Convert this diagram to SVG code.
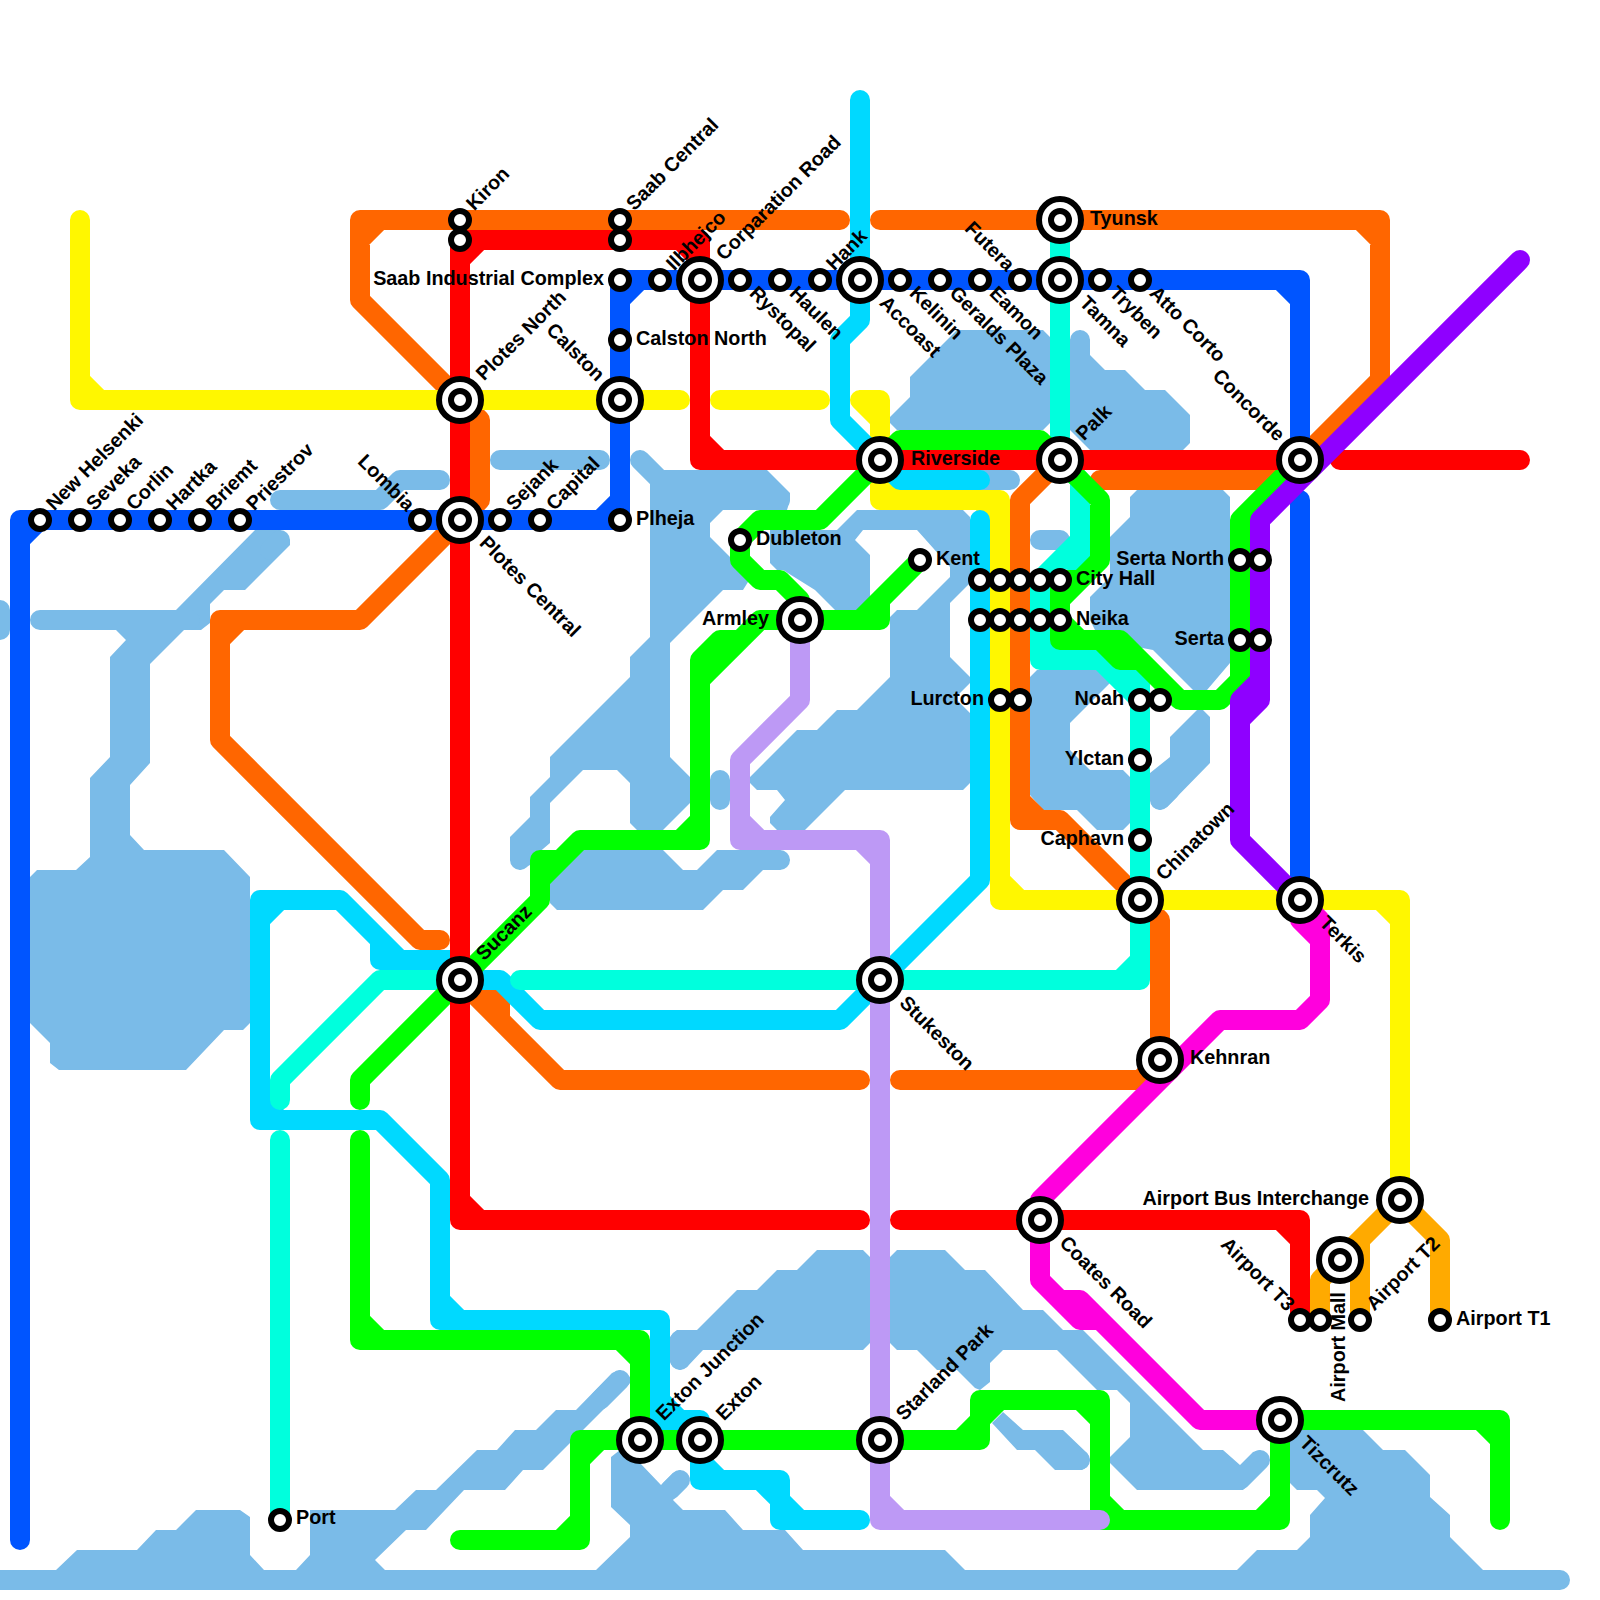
<svg xmlns="http://www.w3.org/2000/svg" width="1600" height="1600" viewBox="0 0 1600 1600">
<style>
.w{fill:#7abbe8}
.wl{fill:none;stroke:#7abbe8;stroke-width:20;stroke-linecap:round;stroke-linejoin:round}
.l{fill:none;stroke-width:20;stroke-linecap:round;stroke-linejoin:round}
.or{stroke:#ff6600}.re{stroke:#ff0000}.ye{stroke:#fff700}.cy{stroke:#00d9ff}.bl{stroke:#0055ff}.te{stroke:#00ffdd}.gr{stroke:#00ff00}.pu{stroke:#8f00ff}.ma{stroke:#ff00dd}.li{stroke:#bd99f5}.am{stroke:#ffaa00}
.ring{fill:#fff;stroke:#000;stroke-width:6}
text{font-family:"Liberation Sans",Arial,sans-serif;font-weight:bold;font-size:19.8px;fill:#000}
.e{text-anchor:end}
</style>
<defs>
<g id="hub"><circle class="ring" r="21"/><circle class="ring" r="9"/></g>
<g id="stop"><circle class="ring" r="9"/></g>
</defs>
<rect width="1600" height="1600" fill="#fff"/>
<g id="water">
<polygon class="w" points="255,530 280,530 290,540 290,545 245,590 224,590 210,604 210,623 201,630 184,630 150,664 150,763 130,785 130,835 144,850 224,850 250,877 250,1023 243,1030 224,1030 186,1070 59,1070 50,1063 50,1043 30,1023 30,877 37,870 76,870 90,857 90,778 110,757 110,657 126,640 116,630 40,630 40,610 176,610"/>
<path class="wl" d="M40,620H190M0,610V630M280,540L270,550M280,500H380L400,480H440M500,460H600M720,780V800M1040,540H1060M960,480H1010M640,460L660,480M520,860V850M770,860H780M780,500H770M1080,340V350M680,1340V1360M620,1380L600,1400M680,1480L670,1490M1260,1460L1240,1480M1160,800L1170,790M1080,1460H1070M1540,1580H1560"/>
<polygon class="w" points="632,460 640,450 663,470 767,470 790,493 790,500 787,510 723,510 710,523 710,537 750,577 748,582 743,590 723,590 670,643 670,757 690,777 690,803 663,830 637,830 630,823 630,783 617,770 583,770 550,803 550,843 530,860 530,865 520,870 510,860 510,837 530,817 530,797 550,777 550,757 630,677 630,657 650,637 650,483 632,465"/>
<polygon class="w" points="583,850 663,850 683,870 697,870 717,850 780,850 790,860 780,870 763,870 743,890 723,890 703,910 557,910 550,903 550,883"/>
<polygon class="w" points="837,530 857,510 963,510 970,517 970,583 950,603 950,657 970,677 970,683 955,698 970,713 970,783 963,790 845,790 805,830 777,830 770,823 770,817 785,800 777,790 757,790 750,783 750,777 797,730 817,730 837,710 857,710 890,677 890,617 897,610 917,610 950,577 950,567 917,530 863,530 855,540 870,555 870,597 857,610 835,610 815,590 783,570 777,570 770,563 770,530"/>
<polygon class="w" points="910,377 957,330 1043,330 1050,337 1050,423 1043,430 897,430 890,423 890,417 910,397"/>
<polygon class="w" points="1070,340 1080,330 1090,340 1090,355 1105,370 1125,370 1145,390 1165,390 1190,415 1190,443 1183,450 1090,450 1070,430"/>
<polygon class="w" points="1130,497 1137,490 1223,490 1230,497 1230,663 1207,690 1193,690 1153,650 1100,640 1090,620 1090,597 1110,577 1110,537 1130,517"/>
<polygon class="w" points="1030,677 1037,670 1097,670 1110,683 1070,723 1070,750 1090,770 1123,770 1130,777 1130,823 1123,830 1097,830 1077,810 1043,810 1030,795"/>
<polygon class="w" points="1150,773 1170,757 1170,737 1197,710 1203,710 1210,717 1210,763 1167,807 1160,810 1153,807 1150,800"/>
<polygon class="w" points="670,1337 677,1330 697,1330 737,1290 757,1290 777,1270 797,1270 817,1250 863,1250 870,1257 870,1343 863,1350 703,1350 687,1367 680,1370 673,1367 670,1362"/>
<polygon class="w" points="890,1257 897,1250 945,1250 965,1270 985,1270 1023,1310 1043,1310 1063,1330 1083,1330 1203,1450 1223,1450 1240,1465 1253,1452 1260,1450 1270,1460 1243,1490 1137,1490 1110,1463 1110,1457 1130,1437 1130,1403 1117,1390 1097,1390 1057,1350 1003,1350 990,1363 990,1382 980,1390 975,1388 957,1370 937,1370 917,1350 897,1350 890,1343"/>
<polygon class="w" points="992,1423 1003,1412 1023,1430 1063,1430 1087,1453 1090,1460 1087,1467 1082,1470 1055,1470 1035,1450 1017,1450"/>
<polygon class="w" points="-10,1570 56,1570 77,1550 137,1550 156,1530 176,1530 196,1510 240,1510 250,1517 250,1555 264,1570 296,1570 310,1555 310,1510 395,1510 416,1490 436,1490 477,1450 497,1450 515,1430 536,1430 556,1410 576,1410 612,1373 620,1370 630,1377 630,1383 543,1470 523,1470 505,1490 464,1490 426,1530 406,1530 375,1560 385,1570 596,1570 630,1537 630,1525 611,1507 611,1457 620,1450 640,1463 661,1485 673,1473 680,1470 690,1478 673,1500 683,1510 725,1510 743,1530 785,1530 803,1550 945,1550 965,1570 1237,1570 1257,1550 1297,1550 1310,1537 1310,1515 1325,1498 1317,1490 1297,1490 1290,1483 1290,1430 1363,1430 1383,1450 1405,1450 1430,1475 1430,1497 1450,1515 1450,1537 1483,1570 1540,1570 1540,1590 -10,1590"/>
</g>
<g id="connectors">
<path id="line-orange" class="l or" d="M840,220H360V300L460,400L480,420V500L460,520L360,620H220V740L420,940H440M360,240L380,220M220,640L240,620M880,220H1380V380L1280,480H1100M1360,220L1380,240M1060,460L1020,500V820H1060L1140,900L1160,920V1060L1140,1080H900M1020,800L1040,820M860,1080H560L460,980M500,1020V990H460"/>
<path id="line-yellow" class="l ye" d="M80,220V400H680M80,380L100,400M720,400H820M860,400H880V500H1000V900H1400V1200M860,400L880,420M880,480L900,500M980,500L1000,520M1000,880L1020,900M1380,900L1400,920"/>
<path id="line-cyan" class="l cy" d="M860,100V320L840,340V420L880,460L900,480H980M980,520V880L880,980L840,1020H540L500,980H460V960H380V940L340,900H260V1120H380L440,1180V1320H660V1420H700V1480H780V1520H860M340,900L400,960M260,920L280,900M260,1100L280,1120M440,1300L460,1320M660,1400L680,1420M700,1460L720,1480M760,1480L780,1500M780,1500L800,1520"/>
<path id="line-teal" class="l te" d="M1060,220V460L1080,480V560H1068M1080,540L1040,580V660H1100L1120,680H1140V980H520M1120,680L1140,700M1120,980L1140,960M1040,640L1060,660M460,980H380L280,1080V1100M280,1140V1520"/>
<path id="line-green" class="l gr" d="M880,460L820,520H760L740,540V560L760,580H780L800,600V620M800,620H760L700,680V840H580L540,880V900L460,980L360,1080V1100M740,640H720L700,660V680M560,860H540V880M680,840L700,820M800,620H880V600M860,620L920,560M360,1140V1340H640V1440M360,1320L380,1340M620,1340L640,1360M460,1540H580V1440H980V1400H1100V1520H1280V1420H1500V1520M560,1540L580,1520M580,1460L600,1440M960,1440L980,1420M980,1420L1000,1400M1080,1400L1100,1420M1100,1500L1120,1520M1260,1520L1280,1500M1480,1420L1500,1440M880,460L900,440H1040L1060,460L1100,500V560L1060,600V640H1120L1180,700H1220L1240,680V520L1300,460M1060,600V580H1080M1100,640L1120,660H1140M1060,620L1080,640"/>
<path id="line-lilac" class="l li" d="M800,620V700L740,760V840H880V1520H1100M740,820L760,840M860,840L880,860M880,1500L900,1520"/>
<path id="line-magenta" class="l ma" d="M1300,900L1320,920V1000L1300,1020H1220L1040,1200V1280L1060,1300H1080L1200,1420H1280M1040,1280L1080,1320H1100M1300,900V920L1320,940"/>
<path id="line-blue" class="l bl" d="M20,1540V520H620V280H1300V460M1300,500V900M20,540L40,520M600,520L620,500M620,300L640,280M1280,280L1300,300"/>
<path id="line-red" class="l re" d="M860,1220H460V240H700V460H1300M460,1200L480,1220M460,260L480,240M680,240L700,260M700,440L720,460M1340,460H1520M900,1220H1300V1320M1280,1220L1300,1240"/>
<path id="line-purple" class="l pu" d="M1520,260L1260,520V700L1240,720V840L1300,900M1260,680L1240,700V720"/>
<path id="line-amber" class="l am" d="M1400,1200L1340,1260L1320,1280V1320M1400,1200L1360,1240V1320M1400,1200L1440,1240V1320"/>
</g>
<g id="stations">
<g id="new-helsenki"><use href="#stop" x="40" y="520"/><text x="56" y="524" transform="rotate(-45 40 520)">New Helsenki</text></g>
<g id="seveka"><use href="#stop" x="80" y="520"/><text x="96" y="524" transform="rotate(-45 80 520)">Seveka</text></g>
<g id="corlin"><use href="#stop" x="120" y="520"/><text x="136" y="524" transform="rotate(-45 120 520)">Corlin</text></g>
<g id="hartka"><use href="#stop" x="160" y="520"/><text x="176" y="524" transform="rotate(-45 160 520)">Hartka</text></g>
<g id="briemt"><use href="#stop" x="200" y="520"/><text x="216" y="524" transform="rotate(-45 200 520)">Briemt</text></g>
<g id="priestrov"><use href="#stop" x="240" y="520"/><text x="256" y="524" transform="rotate(-45 240 520)">Priestrov</text></g>
<g id="lombia"><use href="#stop" x="420" y="520"/><text class="e" x="405" y="524" transform="rotate(45 420 520)">Lombia</text></g>
<g id="plotes-central"><use href="#hub" x="460" y="520"/><text x="490" y="524" transform="rotate(45 460 520)">Plotes Central</text></g>
<g id="sejank"><use href="#stop" x="500" y="520"/><text x="516" y="524" transform="rotate(-45 500 520)">Sejank</text></g>
<g id="capital"><use href="#stop" x="540" y="520"/><text x="556" y="524" transform="rotate(-45 540 520)">Capital</text></g>
<g id="plheja"><use href="#stop" x="620" y="520"/><text x="636" y="525">Plheja</text></g>
<g id="kiron"><use href="#stop" x="460" y="220"/><text x="476" y="224" transform="rotate(-45 460 220)">Kiron</text></g>
<g id="n460-240"><use href="#stop" x="460" y="240"/></g>
<g id="saab-central"><use href="#stop" x="620" y="220"/><text x="636" y="224" transform="rotate(-45 620 220)">Saab Central</text></g>
<g id="n620-240"><use href="#stop" x="620" y="240"/></g>
<g id="saab-industrial-complex"><use href="#stop" x="620" y="280"/><text class="e" x="604" y="285">Saab Industrial Complex</text></g>
<g id="ilbhejco"><use href="#stop" x="660" y="280"/><text x="676" y="284" transform="rotate(-45 660 280)">Ilbhejco</text></g>
<g id="corparation-road"><use href="#hub" x="700" y="280"/><text x="730" y="284" transform="rotate(-45 700 280)">Corparation Road</text></g>
<g id="rystopal"><use href="#stop" x="740" y="280"/><text x="756" y="284" transform="rotate(45 740 280)">Rystopal</text></g>
<g id="haulen"><use href="#stop" x="780" y="280"/><text x="796" y="284" transform="rotate(45 780 280)">Haulen</text></g>
<g id="hank"><use href="#stop" x="820" y="280"/><text x="836" y="284" transform="rotate(-45 820 280)">Hank</text></g>
<g id="accoast"><use href="#hub" x="860" y="280"/><text x="890" y="284" transform="rotate(45 860 280)">Accoast</text></g>
<g id="kelinin"><use href="#stop" x="900" y="280"/><text x="916" y="284" transform="rotate(45 900 280)">Kelinin</text></g>
<g id="geralds-plaza"><use href="#stop" x="940" y="280"/><text x="956" y="284" transform="rotate(45 940 280)">Geralds Plaza</text></g>
<g id="eamon"><use href="#stop" x="980" y="280"/><text x="996" y="284" transform="rotate(45 980 280)">Eamon</text></g>
<g id="futera"><use href="#stop" x="1020" y="280"/><text class="e" x="1005" y="284" transform="rotate(45 1020 280)">Futera</text></g>
<g id="tamna"><use href="#hub" x="1060" y="280"/><text x="1090" y="284" transform="rotate(45 1060 280)">Tamna</text></g>
<g id="tryben"><use href="#stop" x="1100" y="280"/><text x="1116" y="284" transform="rotate(45 1100 280)">Tryben</text></g>
<g id="atto-corto"><use href="#stop" x="1140" y="280"/><text x="1156" y="284" transform="rotate(45 1140 280)">Atto Corto</text></g>
<g id="tyunsk"><use href="#hub" x="1060" y="220"/><text x="1090" y="225">Tyunsk</text></g>
<g id="calston-north"><use href="#stop" x="620" y="340"/><text x="636" y="345">Calston North</text></g>
<g id="plotes-north"><use href="#hub" x="460" y="400"/><text x="490" y="404" transform="rotate(-45 460 400)">Plotes North</text></g>
<g id="calston"><use href="#hub" x="620" y="400"/><text class="e" x="591" y="404" transform="rotate(45 620 400)">Calston</text></g>
<g id="riverside"><use href="#hub" x="880" y="460"/><text x="911" y="465">Riverside</text></g>
<g id="palk"><use href="#hub" x="1060" y="460"/><text x="1090" y="464" transform="rotate(-45 1060 460)">Palk</text></g>
<g id="concorde"><use href="#hub" x="1300" y="460"/><text class="e" x="1271" y="464" transform="rotate(45 1300 460)">Concorde</text></g>
<g id="dubleton"><use href="#stop" x="740" y="540"/><text x="756" y="545">Dubleton</text></g>
<g id="kent"><use href="#stop" x="920" y="560"/><text x="936" y="565">Kent</text></g>
<g id="armley"><use href="#hub" x="800" y="620"/><text class="e" x="769" y="625">Armley</text></g>
<g id="n980-580"><use href="#stop" x="980" y="580"/></g>
<g id="n1000-580"><use href="#stop" x="1000" y="580"/></g>
<g id="n1020-580"><use href="#stop" x="1020" y="580"/></g>
<g id="n1040-580"><use href="#stop" x="1040" y="580"/></g>
<g id="city-hall"><use href="#stop" x="1060" y="580"/><text x="1076" y="585">City Hall</text></g>
<g id="n980-620"><use href="#stop" x="980" y="620"/></g>
<g id="n1000-620"><use href="#stop" x="1000" y="620"/></g>
<g id="n1020-620"><use href="#stop" x="1020" y="620"/></g>
<g id="n1040-620"><use href="#stop" x="1040" y="620"/></g>
<g id="neika"><use href="#stop" x="1060" y="620"/><text x="1076" y="625">Neika</text></g>
<g id="serta-north"><use href="#stop" x="1240" y="560"/><text class="e" x="1224" y="565">Serta North</text></g>
<g id="n1260-560"><use href="#stop" x="1260" y="560"/></g>
<g id="serta"><use href="#stop" x="1240" y="640"/><text class="e" x="1224" y="645">Serta</text></g>
<g id="n1260-640"><use href="#stop" x="1260" y="640"/></g>
<g id="lurcton"><use href="#stop" x="1000" y="700"/><text class="e" x="984" y="705">Lurcton</text></g>
<g id="n1020-700"><use href="#stop" x="1020" y="700"/></g>
<g id="noah"><use href="#stop" x="1140" y="700"/><text class="e" x="1124" y="705">Noah</text></g>
<g id="n1160-700"><use href="#stop" x="1160" y="700"/></g>
<g id="ylctan"><use href="#stop" x="1140" y="760"/><text class="e" x="1124" y="765">Ylctan</text></g>
<g id="caphavn"><use href="#stop" x="1140" y="840"/><text class="e" x="1124" y="845">Caphavn</text></g>
<g id="chinatown"><use href="#hub" x="1140" y="900"/><text x="1170" y="904" transform="rotate(-45 1140 900)">Chinatown</text></g>
<g id="terkis"><use href="#hub" x="1300" y="900"/><text x="1330" y="904" transform="rotate(45 1300 900)">Terkis</text></g>
<g id="sucanz"><use href="#hub" x="460" y="980"/><text x="490" y="984" transform="rotate(-45 460 980)">Sucanz</text></g>
<g id="stukeston"><use href="#hub" x="880" y="980"/><text x="910" y="984" transform="rotate(45 880 980)">Stukeston</text></g>
<g id="kehnran"><use href="#hub" x="1160" y="1060"/><text x="1190" y="1064">Kehnran</text></g>
<g id="coates-road"><use href="#hub" x="1040" y="1220"/><text x="1070" y="1224" transform="rotate(45 1040 1220)">Coates Road</text></g>
<g id="airport-bus-interchange"><use href="#hub" x="1400" y="1200"/><text class="e" x="1369" y="1205">Airport Bus Interchange</text></g>
<g id="airport-t3"><use href="#stop" x="1300" y="1320"/><text class="e" x="1285" y="1324" transform="rotate(45 1300 1320)">Airport T3</text></g>
<g id="n1320-1320"><use href="#stop" x="1320" y="1320"/></g>
<g id="airport-t2"><use href="#stop" x="1360" y="1320"/><text x="1376" y="1324" transform="rotate(-45 1360 1320)">Airport T2</text></g>
<g id="airport-t1"><use href="#stop" x="1440" y="1320"/><text x="1456" y="1325">Airport T1</text></g>
<g id="airport-mall"><use href="#hub" x="1340" y="1260"/><text class="e" x="1308" y="1265" transform="rotate(-90 1340 1260)">Airport Mall</text></g>
<g id="tizcrutz"><use href="#hub" x="1280" y="1420"/><text x="1310" y="1424" transform="rotate(45 1280 1420)">Tizcrutz</text></g>
<g id="starland-park"><use href="#hub" x="880" y="1440"/><text x="910" y="1444" transform="rotate(-45 880 1440)">Starland Park</text></g>
<g id="exton-junction"><use href="#hub" x="640" y="1440"/><text x="670" y="1444" transform="rotate(-45 640 1440)">Exton Junction</text></g>
<g id="exton"><use href="#hub" x="700" y="1440"/><text x="730" y="1444" transform="rotate(-45 700 1440)">Exton</text></g>
<g id="port"><use href="#stop" x="280" y="1520"/><text x="296" y="1524">Port</text></g>
</g>
</svg>
